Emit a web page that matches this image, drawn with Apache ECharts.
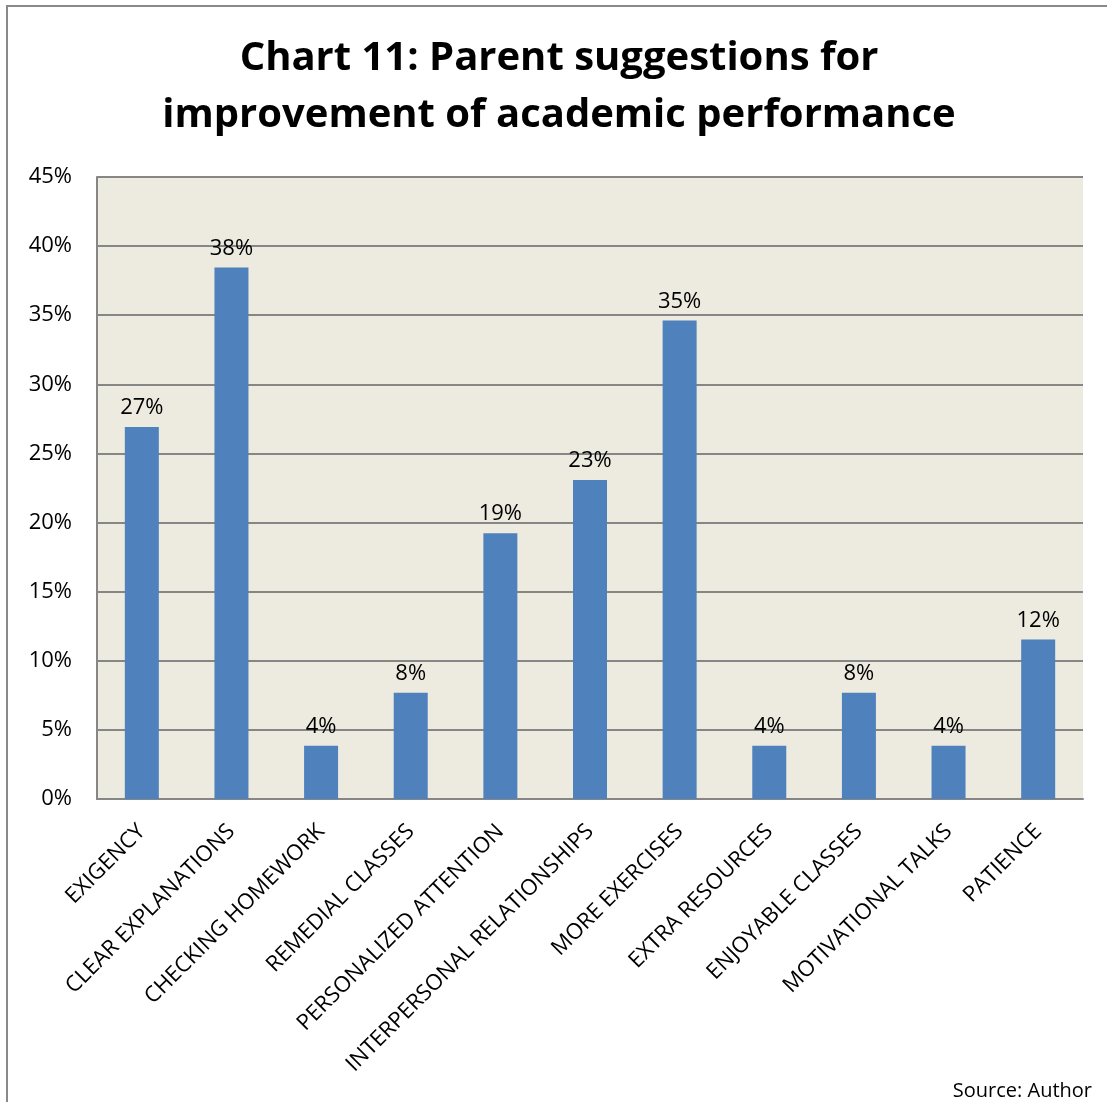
<!DOCTYPE html>
<html>
<head>
<meta charset="utf-8">
<script src="https://cdn.jsdelivr.net/npm/echarts@6/dist/echarts.min.js"></script>
<style>
html,body{margin:0;padding:0;background:#fff;}
#c{width:1107px;height:1102px;}
</style>
</head>
<body>
<div id="c"></div>
<script>
const categories = ["EXIGENCY","CLEAR EXPLANATIONS","CHECKING HOMEWORK","REMEDIAL CLASSES","PERSONALIZED ATTENTION","INTERPERSONAL RELATIONSHIPS","MORE EXERCISES","EXTRA RESOURCES","ENJOYABLE CLASSES","MOTIVATIONAL TALKS","PATIENCE"];
const values = [26.92, 38.46, 3.85, 7.69, 19.23, 23.08, 34.62, 3.85, 7.69, 3.85, 11.54];
const titleText = "Chart 11: Parent suggestions for\nimprovement of academic performance";
const sourceText = "Source: Author";

const chart = echarts.init(document.getElementById('c'));
const F = "Open Sans";
chart.setOption({
  animation: false,
  backgroundColor: '#ffffff',
  title: {
    text: titleText,
    left: 559, top: 30, textAlign: 'center', padding: 0,
    textStyle: {fontFamily: F, fontWeight: 'bold', fontSize: 40, lineHeight: 57, color: '#000'}
  },
  graphic: [
    {type: 'rect', shape: {x: 7, y: 6, width: 1200, height: 1200}, style: {fill: 'none', stroke: '#898989', lineWidth: 2}, silent: true},
    {type: 'text', style: {text: sourceText, x: 1092, y: 1101, textAlign: 'right', textVerticalAlign: 'bottom', fontFamily: F, fontSize: 20, fill: '#000'}}
  ],
  grid: {left: 97, right: 24, top: 177, bottom: 303, show: true, backgroundColor: '#EDEBE0', borderWidth: 0},
  xAxis: {
    type: 'category', data: categories,
    axisLine: {show: true, lineStyle: {color: '#868686', width: 2}},
    axisTick: {show: false},
    axisLabel: {interval: 0, rotate: 45, margin: 29, fontFamily: F, fontSize: 22, color: '#000'}
  },
  yAxis: {
    type: 'value', min: 0, max: 45, interval: 5,
    axisLine: {show: true, lineStyle: {color: '#868686', width: 2}},
    axisTick: {show: false},
    splitLine: {show: true, lineStyle: {color: '#868686', width: 2}},
    axisLabel: {formatter: '{value}%', margin: 25, fontFamily: F, fontSize: 22, color: '#000'}
  },
  series: [{
    type: 'bar', data: values, barWidth: 34,
    itemStyle: {color: '#4F81BD'},
    label: {show: true, position: 'top', distance: 8, fontFamily: F, fontSize: 22, color: '#000',
      formatter: p => Math.round(p.value) + '%'}
  }]
});
</script>
</body>
</html>
